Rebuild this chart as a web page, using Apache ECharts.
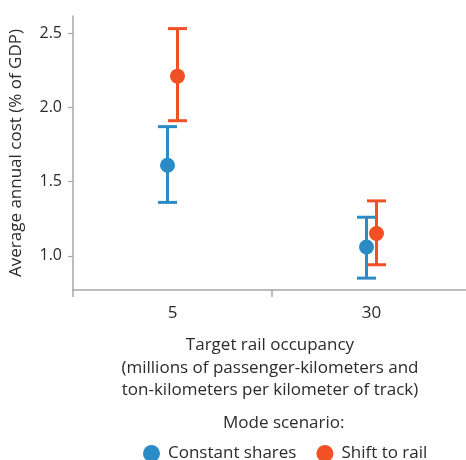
<!DOCTYPE html>
<html>
<head>
<meta charset="utf-8">
<script src="https://cdn.jsdelivr.net/npm/echarts@6/dist/echarts.min.js"></script>
<style>
  html, body { margin: 0; padding: 0; background: #fff; }
  #chart { width: 466px; height: 460px; }
</style>
</head>
<body>
<div id="chart"></div>
<script>
// Target rail occupancy categories (x axis)
const occupancy = ['5', '30'];
// Scenario names
const scenarios = ['Constant shares', 'Shift to rail'];
// Mean average annual cost (% of GDP) per occupancy level, with low/high range
const constantMean = [1.61, 1.06];
const constantLow = [1.36, 0.85];
const constantHigh = [1.87, 1.26];
const shiftMean = [2.21, 1.15];
const shiftLow = [1.91, 0.94];
const shiftHigh = [2.53, 1.37];
// Y axis tick labels
const yTicks = [1.0, 1.5, 2.0, 2.5];

const colors = ['#2a8bc6', '#f14f24'];
const FONT = 'Open Sans';
const TEXT = '#2b2b2b';
const AXIS = '#a8a8a8';

function rows(mean, low, high) {
  return occupancy.map((c, i) => [i, mean[i], low[i], high[i]]);
}

// One custom series per scenario: error bar with caps plus a dot
function errorSeries(name, data, color, shift) {
  return {
    name: name,
    type: 'custom',
    data: data,
    encode: { x: 0, y: [1, 2, 3] },
    itemStyle: { color: color },
    renderItem: function (params, api) {
      const x = api.value(0);
      const mid = api.coord([x, api.value(1)]);
      const lo = api.coord([x, api.value(2)]);
      const hi = api.coord([x, api.value(3)]);
      const cx = mid[0] + shift;
      const cap = 9.5;
      const line = { stroke: color, lineWidth: 3 };
      return {
        type: 'group',
        children: [
          { type: 'line', shape: { x1: cx, y1: hi[1], x2: cx, y2: lo[1] }, style: line },
          { type: 'line', shape: { x1: cx - cap, y1: hi[1], x2: cx + cap, y2: hi[1] }, style: line },
          { type: 'line', shape: { x1: cx - cap, y1: lo[1], x2: cx + cap, y2: lo[1] }, style: line },
          { type: 'circle', shape: { cx: cx, cy: mid[1], r: 7.5 }, style: { fill: color } }
        ]
      };
    }
  };
}

const chart = echarts.init(document.getElementById('chart'), null, { renderer: 'canvas' });
chart.setOption({
  animation: false,
  textStyle: { fontFamily: FONT, color: TEXT },
  // the plot runs slightly past the right edge so the axis line has no end tick
  grid: { left: 73, width: 398, top: 16, bottom: 170, containLabel: false, outerBoundsMode: 'none' },
  xAxis: {
    type: 'category',
    data: occupancy,
    boundaryGap: true,
    axisLine: { lineStyle: { color: AXIS, width: 1.5 } },
    axisTick: { show: true, length: 7, interval: 0, lineStyle: { color: AXIS, width: 1.5 } },
    axisLabel: { fontFamily: FONT, fontSize: 17, color: TEXT, margin: 15 },
    name: 'Target rail occupancy\n(millions of passenger-kilometers and\nton-kilometers per kilometer of track)',
    nameLocation: 'middle',
    nameGap: 44,
    nameTextStyle: { fontFamily: FONT, fontSize: 17, color: TEXT, lineHeight: 22.5, verticalAlign: 'top', padding: [0, 0, 0, -4] }
  },
  yAxis: {
    type: 'value',
    min: 0.77,
    max: 2.615,
    splitLine: { show: false },
    axisLine: { show: true, lineStyle: { color: AXIS, width: 1.5 } },
    axisTick: { show: true, customValues: yTicks, length: 5, lineStyle: { color: AXIS, width: 1.2 } },
    axisLabel: {
      customValues: yTicks,
      formatter: v => v.toFixed(1),
      fontFamily: FONT, fontSize: 16, color: TEXT, margin: 11
    },
    name: 'Average annual cost (% of GDP)',
    nameLocation: 'middle',
    nameGap: 48,
    nameTextStyle: { fontFamily: FONT, fontSize: 17, color: TEXT }
  },
  legend: {
    data: scenarios.map(n => ({ name: n, icon: 'circle' })),
    top: 440,
    left: 138,
    itemWidth: 17,
    itemHeight: 17,
    itemGap: 20,
    textStyle: { fontFamily: FONT, fontSize: 17, color: TEXT, padding: [0, 0, 0, 3] }
  },
  graphic: [{
    type: 'text',
    left: 223,
    top: 415,
    style: { text: 'Mode scenario:', font: '17px "Open Sans"', fill: TEXT }
  }],
  series: [
    errorSeries(scenarios[0], rows(constantMean, constantLow, constantHigh), colors[0], -5),
    errorSeries(scenarios[1], rows(shiftMean, shiftLow, shiftHigh), colors[1], 5)
  ]
});
</script>
</body>
</html>
